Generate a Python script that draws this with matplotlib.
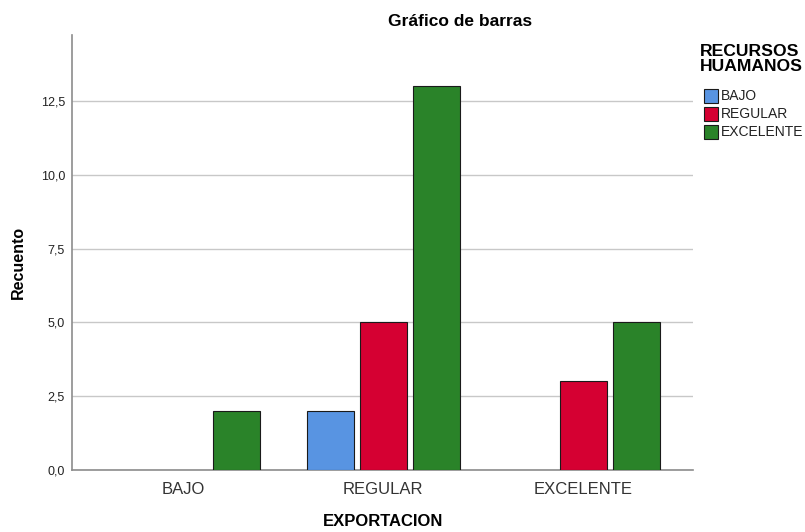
import matplotlib
matplotlib.use("Agg")
import matplotlib.pyplot as plt
from matplotlib.patches import Rectangle
from matplotlib.ticker import FuncFormatter
import numpy as np

plt.rcParams['font.family'] = ['Liberation Sans', 'DejaVu Sans']

categories = ["BAJO", "REGULAR", "EXCELENTE"]
series_names = ["BAJO", "REGULAR", "EXCELENTE"]
bajo = [0, 2, 0]
regular = [0, 5, 3]
excelente = [2, 13, 5]
colors = ["#5894E2", "#D50032", "#2A8329"]
yticks = [0, 2.5, 5, 7.5, 10, 12.5]

W, H = 805, 532
fig = plt.figure(figsize=(W/100, H/100), dpi=100)
ax = fig.add_axes([72/W, 62/H, (693-72)/W, (470-35)/H])

x = np.arange(len(categories))
width = 0.235
offset = 0.265
for i, (vals, col) in enumerate(zip([bajo, regular, excelente], colors)):
    xs = x + (i - 1) * offset
    for xi, v in zip(xs, vals):
        if v > 0:
            ax.bar(xi, v, width=width, color=col, edgecolor="#1a1a1a", linewidth=0.8, zorder=3)

ax.set_xlim(-0.555, 2.55)
ax.set_ylim(0, 14.73)
ax.set_yticks(yticks)
ax.yaxis.set_major_formatter(FuncFormatter(lambda v, p: f"{v:.1f}".replace(".", ",")))
ax.set_xticks(x)
ax.set_xticklabels(categories, fontsize=12, color="#333333")
ax.tick_params(axis='y', length=0, labelsize=9, pad=5, colors="#222222")
ax.tick_params(axis='x', length=0, pad=9)
ax.grid(axis='y', color="#c8c8c8", linewidth=1, zorder=0)
for s in ["top", "right"]:
    ax.spines[s].set_visible(False)
for s in ["left", "bottom"]:
    ax.spines[s].set_color("#8c8c8c")
    ax.spines[s].set_linewidth(1.2)

def fx(px):
    return px / W

def fy(py):
    return 1 - py / H

fig.text(fx(18), fy(262), "Recuento", rotation=90, ha="center", va="center",
         fontsize=11.5, fontweight="bold")
fig.text(fx(383), fy(521), "EXPORTACION", ha="center", va="center",
         fontsize=12, fontweight="bold")
fig.text(fx(460), fy(22), "Gráfico de barras", ha="center", va="center",
         fontsize=12.5, fontweight="bold")

# legend
fig.text(fx(700), fy(59), "RECURSOS\nHUAMANOS", ha="left", va="center",
         fontsize=12.6, fontweight="bold", linespacing=1.0)
for k, (name, col) in enumerate(zip(series_names, colors)):
    cy = 96 + 18 * k
    fig.add_artist(Rectangle((fx(704), fy(cy + 7)), 14/W, 14/H, facecolor=col,
                             edgecolor="#1a1a1a", linewidth=0.8, transform=fig.transFigure))
    fig.text(fx(721), fy(cy), name, ha="left", va="center", fontsize=10, color="#222222")

fig.savefig("out.png", dpi=100)
